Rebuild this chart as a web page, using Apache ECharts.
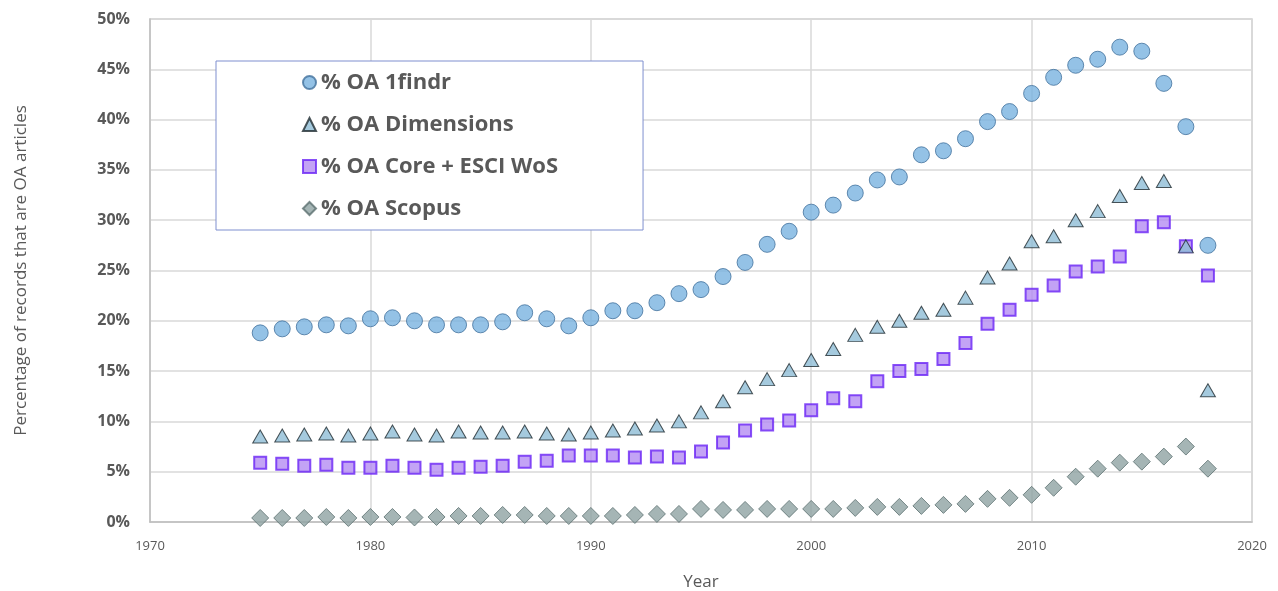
<!DOCTYPE html>
<html>
<head>
<meta charset="utf-8">
<script src="https://cdn.jsdelivr.net/npm/echarts@6/dist/echarts.min.js"></script>
<style>html,body{margin:0;padding:0;background:#fff;}#c{width:1278px;height:591px;}</style>
</head>
<body>
<div id="c"></div>
<script>
const years = [1975,1976,1977,1978,1979,1980,1981,1982,1983,1984,1985,1986,1987,1988,1989,1990,1991,1992,1993,1994,1995,1996,1997,1998,1999,2000,2001,2002,2003,2004,2005,2006,2007,2008,2009,2010,2011,2012,2013,2014,2015,2016,2017,2018];
const oa1findr = [18.8,19.2,19.4,19.6,19.5,20.2,20.3,20.0,19.6,19.6,19.6,19.9,20.8,20.2,19.5,20.3,21.0,21.0,21.8,22.7,23.1,24.4,25.8,27.6,28.9,30.8,31.5,32.7,34.0,34.3,36.5,36.9,38.1,39.8,40.8,42.6,44.2,45.4,46.0,47.2,46.8,43.6,39.3,27.5];
const oaDimensions = [8.5,8.6,8.7,8.8,8.6,8.8,9.0,8.7,8.6,9.0,8.9,8.9,9.0,8.8,8.7,8.9,9.1,9.3,9.6,10.0,10.9,12.0,13.4,14.2,15.1,16.1,17.2,18.6,19.4,20.0,20.8,21.1,22.3,24.3,25.7,27.9,28.4,30.0,30.9,32.4,33.7,33.9,27.4,13.1];
const oaWoS = [5.9,5.8,5.6,5.7,5.4,5.4,5.6,5.4,5.2,5.4,5.5,5.6,6.0,6.1,6.6,6.6,6.6,6.4,6.5,6.4,7.0,7.9,9.1,9.7,10.1,11.1,12.3,12.0,14.0,15.0,15.2,16.2,17.8,19.7,21.1,22.6,23.5,24.9,25.4,26.4,29.4,29.8,27.4,24.5];
const oaScopus = [0.4,0.4,0.4,0.5,0.4,0.5,0.5,0.45,0.5,0.6,0.6,0.7,0.7,0.6,0.6,0.6,0.6,0.7,0.8,0.8,1.3,1.2,1.2,1.3,1.3,1.3,1.3,1.4,1.5,1.5,1.6,1.7,1.8,2.3,2.4,2.7,3.4,4.5,5.3,5.9,6.0,6.5,7.5,5.3];
const seriesNames = ['% OA 1findr','% OA Dimensions','% OA Core + ESCI WoS','% OA Scopus'];

const pair = arr => years.map((y,i)=>[y,arr[i]]);
const chart = echarts.init(document.getElementById('c'), null, {renderer:'canvas'});
const txt = '#595959';
chart.setOption({
  animation:false,
  backgroundColor:'#fff',
  grid:{left:150,right:26,top:19,bottom:69,show:true,borderColor:'#d0d0d0',borderWidth:1.5,containLabel:false,outerBoundsMode:'none'},
  legend:{
    orient:'vertical', left:216, top:61,
    padding:[10,85,10,86],
    borderColor:'#7f8fcf', borderWidth:1, backgroundColor:'#fff',
    itemWidth:13, itemHeight:13, itemGap:19,
    textStyle:{fontFamily:'Open Sans',fontWeight:'bold',fontSize:22,color:txt,lineHeight:23},
    data:seriesNames
  },
  xAxis:{
    type:'value', min:1970, max:2020, interval:10,
    axisLine:{show:true,lineStyle:{color:'#bfbfbf',width:1.5}},
    axisTick:{show:false},
    splitLine:{show:true,lineStyle:{color:'#d9d9d9',width:1.5}},
    axisLabel:{color:txt,fontFamily:'Open Sans',fontSize:13,margin:18,formatter:v=>String(v)},
    name:'Year', nameLocation:'middle', nameGap:52,
    nameTextStyle:{color:txt,fontFamily:'Open Sans',fontSize:17}
  },
  yAxis:{
    type:'value', min:0, max:50, interval:5,
    axisLine:{show:true,lineStyle:{color:'#bfbfbf',width:1.5}},
    axisTick:{show:false},
    splitLine:{show:true,lineStyle:{color:'#d9d9d9',width:1.5}},
    axisLabel:{color:txt,fontFamily:'Open Sans',fontWeight:'bold',fontSize:16,margin:20,formatter:'{value}%'},
    name:'Percentage of records that are OA articles', nameLocation:'middle', nameGap:120,
    nameTextStyle:{color:txt,fontFamily:'Open Sans',fontSize:17}
  },
  series:[
    {name:seriesNames[0],type:'scatter',data:pair(oa1findr),symbol:'circle',symbolSize:16,z:4,
     itemStyle:{color:'#79b3e0',borderColor:'#41719c',borderWidth:1}},
    {name:seriesNames[1],type:'scatter',data:pair(oaDimensions),symbol:'triangle',symbolSize:[15,13],z:3,
     itemStyle:{color:'#8fbdd6',borderColor:'#1f2a30',borderWidth:1}},
    {name:seriesNames[2],type:'scatter',data:pair(oaWoS),symbol:'rect',symbolSize:12,z:2,
     itemStyle:{color:'#b48cf2',borderColor:'#6a24f5',borderWidth:2}},
    {name:seriesNames[3],type:'scatter',data:pair(oaScopus),symbol:'diamond',symbolSize:[17,17],z:1,
     itemStyle:{color:'#8ea3a3',borderColor:'#5c7070',borderWidth:1}}
  ]
});
</script>
</body>
</html>
